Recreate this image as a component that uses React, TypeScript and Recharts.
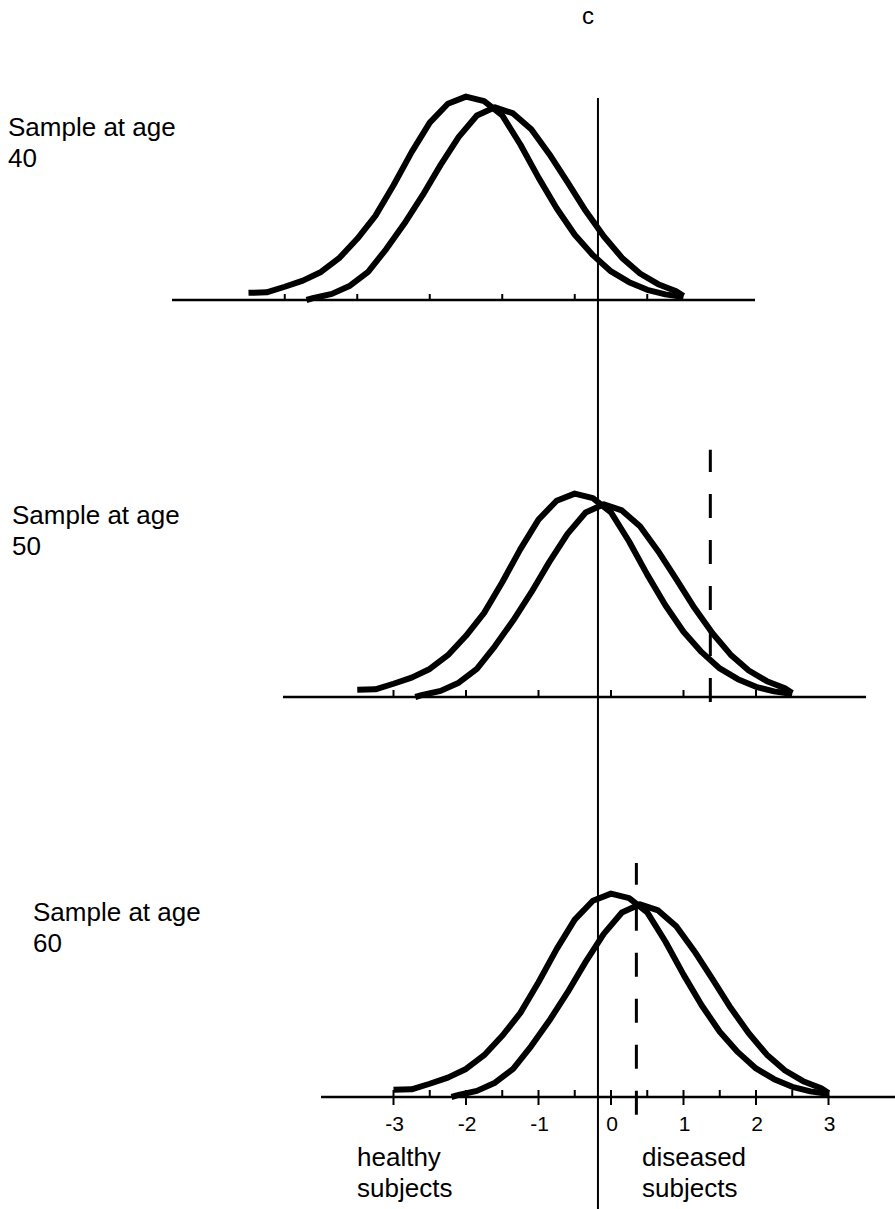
import React from "react";
import { Line, LineChart, ReferenceLine, XAxis, YAxis } from "recharts";

// Heights (density units, peak ~0.4), one value per vertex.
const HEALTHY_Y = [
  0.014, 0.015, 0.026, 0.038, 0.055, 0.082, 0.12, 0.165, 0.225, 0.29, 0.348, 0.385, 0.399,
  0.39, 0.362, 0.305, 0.24, 0.18, 0.128, 0.088, 0.056, 0.035, 0.02, 0.011, 0.006,
];
const DISEASED_Y = [
  0, 0.004, 0.012, 0.028, 0.055, 0.1, 0.15, 0.205, 0.265, 0.32, 0.362, 0.378, 0.366, 0.335,
  0.286, 0.231, 0.175, 0.125, 0.083, 0.052, 0.031, 0.017, 0.008,
];

// x positions of the vertices, per age sample
const HEALTHY_X_40 = [
  -5, -4.75, -4.5, -4.25, -4, -3.75, -3.5, -3.25, -3, -2.75, -2.5, -2.25, -2, -1.75, -1.5, -1.25,
  -1, -0.75, -0.5, -0.25, 0, 0.25, 0.5, 0.75, 1,
];
const DISEASED_X_40 = [
  -4.2, -4.1, -3.85, -3.6, -3.35, -3.1, -2.85, -2.6, -2.35, -2.1, -1.85, -1.6, -1.35, -1.1, -0.85,
  -0.6, -0.35, -0.1, 0.15, 0.4, 0.65, 0.9, 1.0,
];
const HEALTHY_X_50 = [
  -3.5, -3.25, -3, -2.75, -2.5, -2.25, -2, -1.75, -1.5, -1.25, -1, -0.75, -0.5, -0.25, 0, 0.25,
  0.5, 0.75, 1, 1.25, 1.5, 1.75, 2, 2.25, 2.5,
];
const DISEASED_X_50 = [
  -2.7, -2.6, -2.35, -2.1, -1.85, -1.6, -1.35, -1.1, -0.85, -0.6, -0.35, -0.1, 0.15, 0.4, 0.65,
  0.9, 1.15, 1.4, 1.65, 1.9, 2.15, 2.4, 2.5,
];
const HEALTHY_X_60 = [
  -3, -2.75, -2.5, -2.25, -2, -1.75, -1.5, -1.25, -1, -0.75, -0.5, -0.25, 0, 0.25, 0.5, 0.75, 1,
  1.25, 1.5, 1.75, 2, 2.25, 2.5, 2.75, 3,
];
const DISEASED_X_60 = [
  -2.2, -2.1, -1.85, -1.6, -1.35, -1.1, -0.85, -0.6, -0.35, -0.1, 0.15, 0.4, 0.65, 0.9, 1.15,
  1.4, 1.65, 1.9, 2.15, 2.4, 2.65, 2.9, 3.0,
];

const TICKS_40 = [-4.5, -3.5, -2.5, -1.5, -0.5, 0.5];
const TICKS_50 = [-3, -2, -1, 0, 1, 2];
const TICKS_60 = [-3, -2.5, -2, -1.5, -1, -0.5, 0, 0.5, 1, 1.5, 2, 2.5, 3];

// cut-off c, runs through all three samples
const CUTOFF_C = [
  { x: -0.18, y: 0 },
  { x: -0.18, y: 1 },
];
const CRITICAL_50 = 1.37;
const CRITICAL_60 = 0.35;

// layout: x pixel = X0 + UNIT * value
const W = 895;
const H = 1209;
const X0 = 611;
const UNIT = 72.5;
const Y_MAX = 0.51;
const PLOT_H = 260;
const TOP_M = 10;
const AXIS_H = 40;

const toVal = (px: number) => (px - X0) / UNIT;
const pts = (xs: number[], ys: number[]) => xs.map((x, i) => ({ x, y: ys[i] }));

type Kind = "40" | "50" | "60";

function makeTick(kind: Kind) {
  return (props: any) => {
    const { x, y, payload } = props;
    const v = payload.value as number;
    const isInt = Number.isInteger(v);
    if (kind === "60") {
      return (
        <g>
          <line x1={x} x2={x} y1={y - 7} y2={isInt ? y + 8 : y} stroke="#000" strokeWidth={2} />
          {isInt && (
            <text
              x={x + 1}
              y={y + 34}
              textAnchor="middle"
              fill="#000"
              style={{ fontSize: 21, fontFamily: "'Liberation Sans', Arial, sans-serif" }}
            >
              {v}
            </text>
          )}
        </g>
      );
    }
    return <line x1={x} x2={x} y1={y - (kind === "40" ? 6 : 7)} y2={y} stroke="#000" strokeWidth={2} />;
  };
}

const PANELS = [
  {
    kind: "40" as Kind,
    baseline: 300,
    axisL: 172,
    axisR: 755,
    healthy: pts(HEALTHY_X_40, HEALTHY_Y),
    diseased: pts(DISEASED_X_40, DISEASED_Y),
    ticks: TICKS_40,
    critical: null as null | { x: number; y1: number; y2: number },
  },
  {
    kind: "50" as Kind,
    baseline: 697,
    axisL: 283,
    axisR: 866,
    healthy: pts(HEALTHY_X_50, HEALTHY_Y),
    diseased: pts(DISEASED_X_50, DISEASED_Y),
    ticks: TICKS_50,
    critical: { x: CRITICAL_50, y1: -0.01, y2: 0.485 },
  },
  {
    kind: "60" as Kind,
    baseline: 1097,
    axisL: 321,
    axisR: 895,
    healthy: pts(HEALTHY_X_60, HEALTHY_Y),
    diseased: pts(DISEASED_X_60, DISEASED_Y),
    ticks: TICKS_60,
    critical: { x: CRITICAL_60, y1: -0.035, y2: 0.459 },
  },
];

const curveProps = {
  dataKey: "y",
  type: "linear" as const,
  stroke: "#000",
  strokeWidth: 6,
  strokeLinejoin: "round" as const,
  dot: false,
  isAnimationActive: false,
};

function Panel({ p }: { p: (typeof PANELS)[number] }) {
  const chartH = TOP_M + PLOT_H + AXIS_H;
  return (
    <div style={{ position: "absolute", left: 0, top: p.baseline - PLOT_H - TOP_M }}>
      <LineChart
        width={W}
        height={chartH}
        margin={{ top: TOP_M, right: W - p.axisR, bottom: 0, left: p.axisL }}
      >
        <XAxis
          type="number"
          dataKey="x"
          domain={[toVal(p.axisL), toVal(p.axisR)]}
          allowDataOverflow
          ticks={p.ticks}
          interval={0}
          height={AXIS_H}
          tickSize={0}
          tickMargin={0}
          tickLine={false}
          tick={makeTick(p.kind)}
          axisLine={{ stroke: "#000", strokeWidth: 2.5 }}
        />
        <YAxis type="number" domain={[0, Y_MAX]} hide />
        {p.critical && (
          <ReferenceLine
            segment={[
              { x: p.critical.x, y: p.critical.y1 },
              { x: p.critical.x, y: p.critical.y2 },
            ]}
            ifOverflow="visible"
            stroke="#000"
            strokeWidth={3}
            strokeDasharray="24 22"
          />
        )}
        <Line data={p.healthy} {...curveProps} />
        <Line data={p.diseased} {...curveProps} />
      </LineChart>
    </div>
  );
}

const textStyle: React.CSSProperties = {
  position: "absolute",
  fontSize: 26,
  lineHeight: "31px",
  color: "#000",
  whiteSpace: "nowrap",
};

export default function App() {
  return (
    <div
      style={{
        position: "absolute",
        left: 0,
        top: 0,
        width: W,
        height: H,
        background: "#fff",
        overflow: "hidden",
        fontFamily: "'Liberation Sans', Arial, sans-serif",
      }}
    >
      <div style={{ position: "absolute", left: 0, top: 0 }}>
        <LineChart width={W} height={H} margin={{ top: 98, right: 0, bottom: 0, left: 0 }}>
          <XAxis type="number" dataKey="x" domain={[toVal(0), toVal(W)]} allowDataOverflow hide />
          <YAxis type="number" domain={[0, 1]} allowDataOverflow hide />
          <Line
            data={CUTOFF_C}
            dataKey="y"
            type="linear"
            stroke="#000"
            strokeWidth={2}
            dot={false}
            isAnimationActive={false}
          />
        </LineChart>
      </div>

      {PANELS.map((p) => (
        <Panel key={p.kind} p={p} />
      ))}

      <div style={{ ...textStyle, left: 582, top: 0, fontSize: 24 }}>c</div>
      <div style={{ ...textStyle, left: 8, top: 112 }}>
        Sample at age
        <br />
        40
      </div>
      <div style={{ ...textStyle, left: 12, top: 500 }}>
        Sample at age
        <br />
        50
      </div>
      <div style={{ ...textStyle, left: 33, top: 897 }}>
        Sample at age
        <br />
        60
      </div>
      <div style={{ ...textStyle, left: 357, top: 1142 }}>
        healthy
        <br />
        subjects
      </div>
      <div style={{ ...textStyle, left: 642, top: 1142 }}>
        diseased
        <br />
        subjects
      </div>
    </div>
  );
}
